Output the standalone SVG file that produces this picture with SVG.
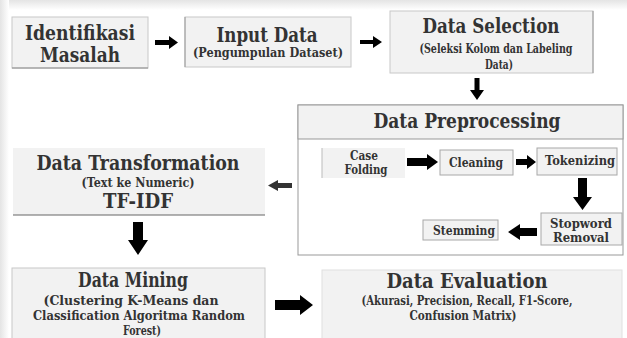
<svg xmlns="http://www.w3.org/2000/svg" width="627" height="338" viewBox="0 0 627 338">
<defs>
<linearGradient id="gt" x1="0" y1="0" x2="0" y2="1"><stop offset="0" stop-color="#e4e4e4"/><stop offset="1" stop-color="#ffffff"/></linearGradient>
<linearGradient id="gl" x1="0" y1="0" x2="1" y2="0"><stop offset="0" stop-color="#e4e4e4"/><stop offset="1" stop-color="#ffffff"/></linearGradient>
<style>
text{font-family:"DejaVu Serif","Liberation Serif",serif;font-weight:bold;fill:#333;text-anchor:middle}
.box{fill:#f2f2f2;stroke:#c8c8c8;stroke-width:1}
.sub{fill:#f2f2f2;stroke:#a8a8a8;stroke-width:1}
.arr{fill:#000}
.t1{font-size:20px}
.t2{font-size:12px}
.t3{font-size:13px}
</style>
</defs>
<rect width="627" height="338" fill="#fff"/>
<rect x="0" y="0" width="627" height="10" fill="url(#gt)"/>
<rect x="0" y="0" width="9" height="338" fill="url(#gl)"/>

<g id="identifikasi">
<rect class="box" x="12" y="17" width="136" height="51"/>
<line x1="12" y1="68" x2="148" y2="68" stroke="#8a8a8a"/>
<text class="t1" x="80" y="40" textLength="110" lengthAdjust="spacingAndGlyphs">Identifikasi</text>
<text class="t1" x="80" y="62" textLength="80" lengthAdjust="spacingAndGlyphs">Masalah</text>
</g>

<g id="input-data">
<rect class="box" x="185" y="17" width="166" height="50"/>
<line x1="185" y1="17" x2="185" y2="67" stroke="#999"/>
<text class="t1" x="267" y="42" textLength="101" lengthAdjust="spacingAndGlyphs">Input Data</text>
<text class="t2" x="268" y="57" textLength="150" lengthAdjust="spacingAndGlyphs">(Pengumpulan Dataset)</text>
</g>

<g id="data-selection">
<rect class="box" x="390" y="11" width="203" height="62"/>
<line x1="593" y1="11" x2="593" y2="73" stroke="#999"/>
<text class="t1" x="491" y="33" textLength="137" lengthAdjust="spacingAndGlyphs">Data Selection</text>
<text class="t2" x="496" y="53" textLength="153" lengthAdjust="spacingAndGlyphs">(Seleksi Kolom dan Labeling</text>
<text class="t2" x="499" y="69" textLength="28" lengthAdjust="spacingAndGlyphs">Data)</text>
</g>

<g id="data-preprocessing">
<rect x="298" y="105" width="325" height="150" fill="#fff" stroke="#999"/>
<rect x="298" y="105" width="325" height="34" fill="#f2f2f2" stroke="#999"/>
<text class="t1" x="467" y="128" textLength="187" lengthAdjust="spacingAndGlyphs">Data Preprocessing</text>
</g>

<g id="case-folding">
<rect x="322" y="148" width="83" height="30" fill="#f2f2f2"/>
<line x1="322" y1="148" x2="322" y2="178" stroke="#bbb"/>
<text class="t3" x="364" y="160" textLength="28" lengthAdjust="spacingAndGlyphs">Case</text>
<text class="t3" x="366" y="174" textLength="43" lengthAdjust="spacingAndGlyphs">Folding</text>
</g>

<g id="cleaning">
<rect class="sub" x="440" y="150" width="73" height="25"/>
<text class="t3" x="476" y="167" textLength="54" lengthAdjust="spacingAndGlyphs">Cleaning</text>
</g>

<g id="tokenizing">
<rect class="sub" x="537" y="148" width="80" height="27"/>
<text class="t3" x="580" y="165" textLength="70" lengthAdjust="spacingAndGlyphs">Tokenizing</text>
</g>

<g id="stopword-removal">
<rect class="sub" x="541" y="213" width="81" height="32"/>
<text class="t3" x="581" y="228" textLength="62" lengthAdjust="spacingAndGlyphs">Stopword</text>
<text class="t3" x="581" y="242" textLength="56" lengthAdjust="spacingAndGlyphs">Removal</text>
</g>

<g id="stemming">
<rect class="sub" x="423" y="220" width="75" height="20"/>
<text class="t3" x="464" y="235" textLength="62" lengthAdjust="spacingAndGlyphs">Stemming</text>
</g>

<g id="data-transformation">
<rect x="13" y="148" width="252" height="67" fill="#f2f2f2"/>
<line x1="13" y1="215" x2="265" y2="215" stroke="#666"/>
<text class="t1" x="138" y="170" textLength="203" lengthAdjust="spacingAndGlyphs">Data Transformation</text>
<text class="t2" x="138" y="187" textLength="113" lengthAdjust="spacingAndGlyphs">(Text ke Numeric)</text>
<text class="t1" x="138" y="208" textLength="70" lengthAdjust="spacingAndGlyphs">TF-IDF</text>
</g>

<g id="data-mining">
<rect class="box" x="12" y="268" width="253" height="75"/>
<text class="t1" x="133" y="287" textLength="110" lengthAdjust="spacingAndGlyphs">Data Mining</text>
<text class="t3" x="131" y="305" textLength="175" lengthAdjust="spacingAndGlyphs">(Clustering K-Means dan</text>
<text class="t3" x="139" y="320" textLength="212" lengthAdjust="spacingAndGlyphs">Classification Algoritma Random</text>
<text class="t3" x="142" y="335" textLength="38" lengthAdjust="spacingAndGlyphs">Forest)</text>
</g>

<g id="data-evaluation">
<rect x="322" y="270" width="300" height="73" fill="#f2f2f2" stroke="#e0e0e0"/>
<text class="t1" x="467" y="288" textLength="161" lengthAdjust="spacingAndGlyphs">Data Evaluation</text>
<text class="t2" x="467" y="305" textLength="211" lengthAdjust="spacingAndGlyphs">(Akurasi, Precision, Recall, F1-Score,</text>
<text class="t2" x="463" y="320" textLength="107" lengthAdjust="spacingAndGlyphs">Confusion Matrix)</text>
</g>

<g id="connectors">
<polygon class="arr" points="155,40 169,40 169,36 178,42.5 169,49 169,45 155,45"/>
<polygon class="arr" points="360,40 373,40 373,36 382,42 373,48 373,44 360,44"/>
<polygon class="arr" points="474.5,78 479.5,78 479.5,90 484,90 477,100 470,90 474.5,90"/>
<polygon class="arr" points="407,158 427,158 427,154 438,162 427,170 427,166 407,166"/>
<polygon class="arr" points="516,159 527,159 527,155 536,162 527,169 527,165 516,165"/>
<polygon class="arr" points="578,178 587,178 587,197 592,197 582.5,210 573,197 578,197"/>
<polygon class="arr" points="537,228 520,228 520,224 508,232 520,240 520,236 537,236"/>
<polygon fill="#333" points="292,183 278,183 278,180 268,185.5 278,191 278,188 292,188"/>
<polygon class="arr" points="133,222 143,222 143,240 148,240 138,255 128,240 133,240"/>
<polygon class="arr" points="275,300 300,300 300,295 313,305 300,315 300,310 275,310"/>
</g>
</svg>
